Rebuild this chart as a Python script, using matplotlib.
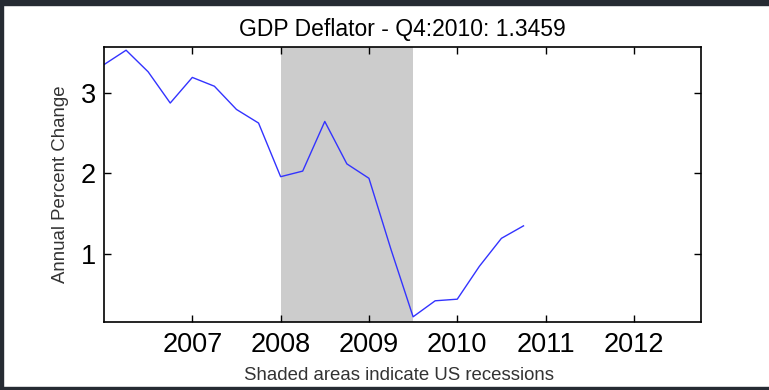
import matplotlib
matplotlib.use("Agg")
import matplotlib.pyplot as plt
from matplotlib import font_manager
from matplotlib.patches import Rectangle

plt.rcParams['font.family'] = ['Liberation Sans', 'DejaVu Sans']

# quarterly GDP deflator, annual percent change, Q1 2006 .. Q4 2010
quarters = [2006.0, 2006.25, 2006.5, 2006.75,
            2007.0, 2007.25, 2007.5, 2007.75,
            2008.0, 2008.25, 2008.5, 2008.75,
            2009.0, 2009.25, 2009.5, 2009.75,
            2010.0, 2010.25, 2010.5, 2010.75]
deflator = [3.36, 3.54, 3.27, 2.88,
            3.20, 3.09, 2.80, 2.63,
            1.96, 2.03, 2.65, 2.12,
            1.94, 1.05, 0.21, 0.41,
            0.43, 0.84, 1.19, 1.3459]

recession_start = 2008.0
recession_end = 2009.5

year_ticks = [2007, 2008, 2009, 2010, 2011, 2012]
y_ticks = [1, 2, 3]

# tick labels in the original are tall and narrow
try:
    font_manager.findfont("Liberation Sans Narrow", fallback_to_default=False)
    tick_font = {"family": "Liberation Sans Narrow", "size": 22}
except Exception:
    tick_font = {"family": "Liberation Sans", "size": 19.5}

fig = plt.figure(figsize=(7.69, 3.90), dpi=100)
fig.patch.set_facecolor("white")

# dark frame around the screenshot
frame = "#262b33"
fig.patches.append(Rectangle((0, 1 - 4.5 / 390), 1, 4.5 / 390, transform=fig.transFigure, color=frame, zorder=0))
fig.patches.append(Rectangle((0, 0), 1, 3.5 / 390, transform=fig.transFigure, color=frame, zorder=0))
fig.patches.append(Rectangle((0, 0), 3 / 769, 1, transform=fig.transFigure, color=frame, zorder=0))

ax = fig.add_axes([104 / 769, 1 - 322 / 390, 597 / 769, 275 / 390])

ax.axvspan(recession_start, recession_end, color="#cccccc", lw=0, zorder=0)
ax.plot(quarters, deflator, color="#3333ff", lw=1.0, zorder=2)

ax.set_xlim(2006.0, 2012.76)
ax.set_ylim(0.145, 3.58)
ax.set_xticks(year_ticks)
ax.set_xticklabels([str(y) for y in year_ticks], fontdict=tick_font)
ax.set_yticks(y_ticks)
ax.set_yticklabels([str(v) for v in y_ticks], fontdict=tick_font)
ax.tick_params(direction="in", length=5, width=1, top=True, right=True,
               colors="black")
ax.tick_params(axis="x", pad=7)
ax.tick_params(axis="y", pad=6)
for s in ax.spines.values():
    s.set_linewidth(1.2)

ax.set_title("GDP Deflator - Q4:2010: 1.3459", fontsize=16.5, pad=8)
ax.set_ylabel("Annual Percent Change", fontsize=13.4, color="#333333", labelpad=8)
fig.text(399 / 769, 1 - 375 / 390, "Shaded areas indicate US recessions",
         ha="center", va="center", fontsize=13.4, color="#333333")

fig.savefig("out.png", dpi=100)
